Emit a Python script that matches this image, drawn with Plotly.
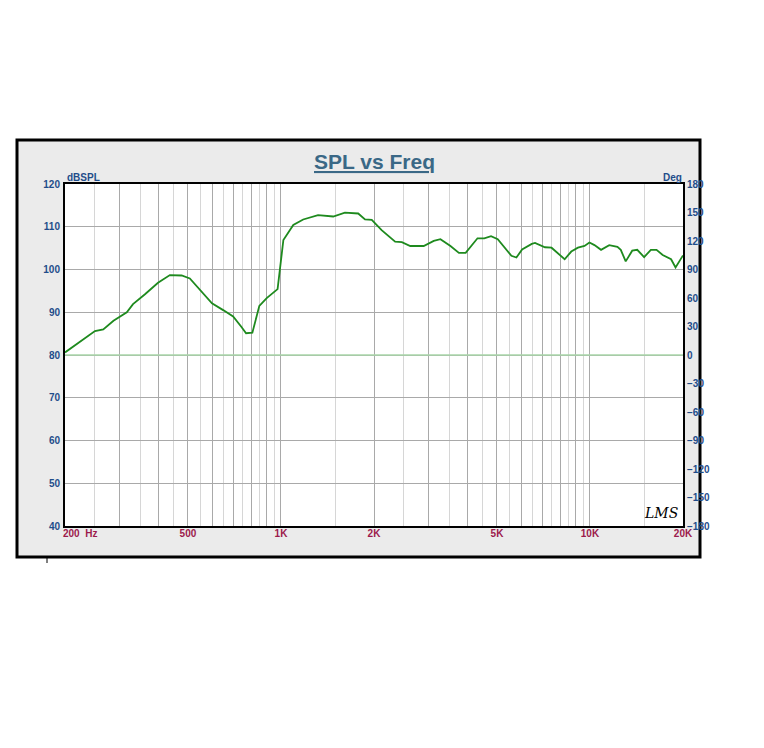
import plotly.graph_objects as go

# SPL trace (Hz, dB SPL)
freq_hz = [200, 250, 266, 287, 317, 332, 363, 400, 437, 477, 507, 546, 598, 650,
           700, 744, 771, 808, 851, 899, 975, 1018, 1096, 1180, 1318, 1476, 1610,
           1778, 1870, 1967, 2117, 2341, 2461, 2621, 2896, 3122, 3281, 3536, 3766,
           3960, 4325, 4548, 4784, 5030, 5568, 5780, 6030, 6480, 6640, 7150, 7510,
           8280, 8700, 9140, 9600, 9960, 10340, 10860, 11540, 12270, 12580, 13050,
           13700, 14220, 14970, 15740, 16420, 17190, 18300, 18920, 19770, 20000]
spl_db = [80.6, 85.6, 86.0, 88.0, 90.0, 91.9, 94.2, 96.9, 98.7, 98.6, 97.9, 95.2,
          92.1, 90.5, 89.0, 86.6, 85.1, 85.2, 91.5, 93.3, 95.4, 106.9, 110.4, 111.7,
          112.7, 112.4, 113.3, 113.1, 111.7, 111.6, 109.2, 106.5, 106.4, 105.5, 105.5,
          106.7, 107.1, 105.5, 103.9, 103.9, 107.3, 107.3, 107.8, 107.1, 103.2, 102.8,
          104.7, 106.0, 106.2, 105.2, 105.1, 102.4, 104.2, 105.1, 105.5, 106.3, 105.7,
          104.6, 105.7, 105.3, 104.6, 101.9, 104.4, 104.6, 102.9, 104.6, 104.6, 103.4,
          102.4, 100.5, 102.9, 103.3]

# phase trace (flat at 0 deg)
phase_freq = [200, 20000]
phase_deg = [0, 0]

# axis ticks
major_vals = [200, 300, 400, 500, 600, 700, 800, 900, 1000, 2000, 3000, 4000,
              5000, 6000, 7000, 8000, 9000, 10000, 20000]
major_text = ["", "", "", "500", "", "", "", "", "1K", "2K", "", "", "5K", "", "",
              "", "", "10K", "20K"]
minor_vals = [250, 350, 450, 550, 650, 750, 850, 950, 1500, 2500, 3500, 4500,
              5500, 6500, 7500, 8500, 9500, 15000]
db_ticks = [40, 50, 60, 70, 80, 90, 100, 110, 120]
deg_ticks = [-180, -150, -120, -90, -60, -30, 0, 30, 60, 90, 120, 150, 180]

# page body adds an 8px margin, so work in screen pixels minus that
OFF = 8
W, H = 764 - OFF, 748 - OFF
L, R, T, B = 65 - OFF, 683 - OFF, 184 - OFF, 526 - OFF


def px_x(p):
    return (p - OFF - L) / (R - L)


def px_y(p):
    return (B - (p - OFF)) / (B - T)


blue = "#1f4d8a"
maroon = "#9c1a4c"
FONT = "Liberation Sans, Arial"
tick_font = dict(family=FONT, size=10, color=blue, weight="bold")

fig = go.Figure()
fig.add_trace(go.Scatter(x=phase_freq, y=phase_deg, yaxis="y2", mode="lines",
                         line=dict(color="#a8d6a8", width=1.6), hoverinfo="skip"))
fig.add_trace(go.Scatter(x=freq_hz, y=spl_db, mode="lines",
                         line=dict(color="#1e8a1e", width=1.8)))

fig.update_layout(
    width=W, height=H,
    margin=dict(l=L, r=W - R, t=T, b=H - B, autoexpand=False),
    paper_bgcolor="white", plot_bgcolor="white",
    showlegend=False,
    xaxis=dict(type="log", range=[2.30103, 4.30103], tickmode="array",
               tickvals=major_vals, ticktext=major_text,
               showgrid=True, gridcolor="#a9a9a9", gridwidth=1,
               minor=dict(tickvals=minor_vals, showgrid=True, gridcolor="#d6d6d6", gridwidth=1),
               tickfont=dict(family=FONT, size=10, color=maroon, weight="bold"),
               showline=True, linecolor="black", linewidth=2, mirror=True,
               ticks="outside", ticklen=1, tickcolor="rgba(0,0,0,0)",
               ticklabelstandoff=-4, zeroline=False, automargin=False),
    yaxis=dict(range=[40, 120], tickvals=db_ticks, showgrid=True, gridcolor="#a9a9a9",
               tickfont=tick_font, showline=True, linecolor="black", linewidth=2,
               mirror=True, ticks="outside", ticklen=1, tickcolor="rgba(0,0,0,0)",
               zeroline=False, automargin=False),
    yaxis2=dict(range=[-180, 180], tickvals=deg_ticks, overlaying="y", side="right",
                showgrid=False, tickfont=tick_font, showline=False,
                ticks="outside", ticklen=1, tickcolor="rgba(0,0,0,0)",
                zeroline=False, automargin=False),
)

# outer grey frame, then white plotting area on top of it
fig.add_shape(type="rect", xref="paper", yref="paper", layer="below",
              x0=px_x(17), x1=px_x(700), y0=px_y(557), y1=px_y(140),
              fillcolor="#ebebeb", line=dict(color="black", width=3))
fig.add_shape(type="rect", xref="paper", yref="paper", layer="below",
              x0=0, x1=1, y0=0, y1=1, fillcolor="white", line=dict(width=0))
fig.add_shape(type="line", xref="paper", yref="paper",
              x0=px_x(47), x1=px_x(47), y0=px_y(558), y1=px_y(563),
              line=dict(color="black", width=1))

bold = dict(family=FONT, size=10, weight="bold")
fig.add_annotation(text="<u>SPL vs Freq</u>", xref="paper", yref="paper",
                   x=px_x(374), y=px_y(162), xanchor="center", yanchor="middle",
                   showarrow=False,
                   font=dict(family=FONT, size=21, color="#3a6886", weight="bold"))
fig.add_annotation(text="dBSPL", xref="paper", yref="paper", x=px_x(65), y=px_y(177),
                   xanchor="left", yanchor="middle", showarrow=False,
                   font=dict(bold, color=blue))
fig.add_annotation(text="Deg", xref="paper", yref="paper", x=px_x(684), y=px_y(177),
                   xanchor="right", yanchor="middle", showarrow=False,
                   font=dict(bold, color=blue))
fig.add_annotation(text="200  Hz", x=2.30103, xref="x", yref="paper", y=px_y(533),
                   xanchor="left", yanchor="middle", xshift=-4, showarrow=False,
                   font=dict(bold, color=maroon))
fig.add_annotation(text="<i>LMS</i>", xref="paper", yref="paper", x=px_x(661), y=px_y(513),
                   xanchor="center", yanchor="middle", showarrow=False,
                   font=dict(family="DejaVu Serif", size=14, color="black"))

fig.write_html("out.html")
